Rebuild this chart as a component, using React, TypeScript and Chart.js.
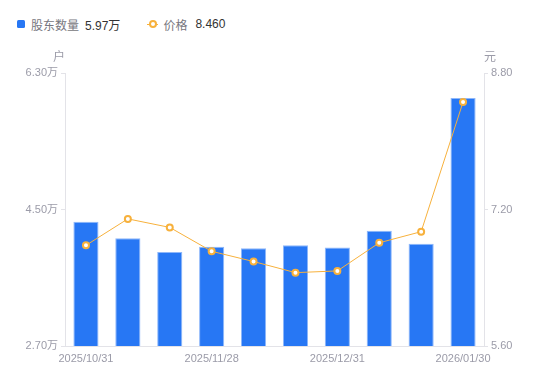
import React, { useEffect, useRef } from "react";
import { Chart, registerables } from "chart.js";

Chart.register(...registerables);

const categories = [
  "2025/10/31", "2025/11/10", "2025/11/20", "2025/11/28", "2025/12/10",
  "2025/12/20", "2025/12/31", "2026/01/09", "2026/01/20", "2026/01/30",
];
const holders = [4.34, 4.12, 3.94, 4.01, 3.99, 4.03, 4.0, 4.22, 4.05, 5.97];
const prices = [6.78, 7.09, 6.99, 6.71, 6.59, 6.46, 6.48, 6.81, 6.94, 8.46];
const leftTicks = [2.7, 4.5, 6.3];
const rightTicks = [5.6, 7.2, 8.8];
const shownLabelIdx = [0, 3, 6, 9];

const BLUE = "#2777F4";
const ORANGE = "#F7B13C";
const TICK_COLOR = "#9b9ba8";
const LINE_COLOR = "#e3e3e8";
const FONT = "'Liberation Sans', 'Noto Sans CJK SC', sans-serif";

const unitPlugin = {
  id: "unitTitles",
  afterDraw(chart: any) {
    const { ctx, chartArea } = chart;
    ctx.save();
    ctx.font = `12px ${FONT}`;
    ctx.fillStyle = TICK_COLOR;
    ctx.textBaseline = "middle";
    ctx.textAlign = "center";
    ctx.fillText("户", chartArea.left - 6, chartArea.top - 15);
    ctx.fillText("元", chartArea.right + 6, chartArea.top - 15);
    ctx.restore();
  },
};

export default function App() {
  const ref = useRef<HTMLCanvasElement>(null);
  useEffect(() => {
    if (!ref.current) return;
    const chart = new Chart(ref.current, {
      type: "bar",
      data: {
        labels: categories,
        datasets: [
          {
            type: "line",
            label: "价格",
            data: prices,
            yAxisID: "y1",
            borderColor: ORANGE,
            borderWidth: 1,
            pointRadius: 3,
            pointBorderWidth: 2,
            pointBackgroundColor: "#ffffff",
            pointBorderColor: ORANGE,
            tension: 0,
            order: 0,
          } as any,
          {
            type: "bar",
            label: "股东数量",
            data: holders,
            yAxisID: "y",
            backgroundColor: BLUE,
            borderColor: "rgba(130,175,250,0.9)",
            borderWidth: 1,
            barPercentage: 0.6,
            categoryPercentage: 1,
            order: 1,
          } as any,
        ],
      },
      options: {
        animation: false,
        responsive: false,
        maintainAspectRatio: false,
        layout: { padding: { top: 73, left: 0, right: 0, bottom: 0 } },
        plugins: { legend: { display: false }, tooltip: { enabled: false } },
        scales: {
          x: {
            offset: true,
            grid: { display: false, drawTicks: false },
            border: { display: true, color: LINE_COLOR },
            ticks: {
              autoSkip: false,
              maxRotation: 0,
              padding: 6,
              color: TICK_COLOR,
              font: { family: FONT, size: 11 },
              callback: (_v: any, i: number) => (shownLabelIdx.includes(i) ? categories[i] : ""),
            },
            afterFit: (s: any) => { s.height = 35; },
          },
          y: {
            position: "left",
            min: leftTicks[0],
            max: leftTicks[leftTicks.length - 1],
            grid: { drawOnChartArea: false, drawTicks: true, tickLength: 4, color: LINE_COLOR },
            border: { display: true, color: LINE_COLOR },
            ticks: {
              padding: 3,
              color: TICK_COLOR,
              font: { family: FONT, size: 11 },
              callback: (v: any) => Number(v).toFixed(2) + "万",
            },
            afterBuildTicks: (s: any) => { s.ticks = leftTicks.map((v) => ({ value: v })); },
            afterFit: (s: any) => { s.width = 65; },
          },
          y1: {
            position: "right",
            min: rightTicks[0],
            max: rightTicks[rightTicks.length - 1],
            grid: { drawOnChartArea: false, drawTicks: true, tickLength: 4, color: LINE_COLOR },
            border: { display: true, color: LINE_COLOR },
            ticks: {
              padding: 3,
              color: TICK_COLOR,
              font: { family: FONT, size: 11 },
              callback: (v: any) => Number(v).toFixed(2),
            },
            afterBuildTicks: (s: any) => { s.ticks = rightTicks.map((v) => ({ value: v })); },
            afterFit: (s: any) => { s.width = 66; },
          },
        },
      },
      plugins: [unitPlugin],
    });
    return () => chart.destroy();
  }, []);

  const lastHolders = holders[holders.length - 1].toFixed(2) + "万";
  const lastPrice = prices[prices.length - 1].toFixed(3);

  return (
    <div style={{ position: "absolute", left: 0, top: 0, width: 550, height: 381, background: "#fff", fontFamily: FONT }}>
      <div style={{ position: "absolute", left: 17, top: 15, height: 18, display: "flex", alignItems: "center", fontSize: 12, whiteSpace: "nowrap" }}>
        <span style={{ display: "inline-block", width: 8, height: 8, background: BLUE, borderRadius: 1.5, marginRight: 6 }} />
        <span style={{ color: "#777780" }}>股东数量</span>
        <span style={{ color: "#333", marginLeft: 6 }}>{lastHolders}</span>
        <span style={{ position: "relative", display: "inline-block", width: 11, height: 8, marginLeft: 27, marginRight: 5 }}>
          <span style={{ position: "absolute", left: 0, top: 3.5, width: 11, height: 1, background: ORANGE }} />
          <span style={{ position: "absolute", left: 2, top: 0, width: 4, height: 4, border: `2px solid ${ORANGE}`, borderRadius: "50%", background: "#fff" }} />
        </span>
        <span style={{ color: "#777780" }}>价格</span>
        <span style={{ color: "#333", marginLeft: 8 }}>{lastPrice}</span>
      </div>
      <canvas ref={ref} width={550} height={381} style={{ position: "absolute", left: 0, top: 0, width: 550, height: 381 }} />
    </div>
  );
}
